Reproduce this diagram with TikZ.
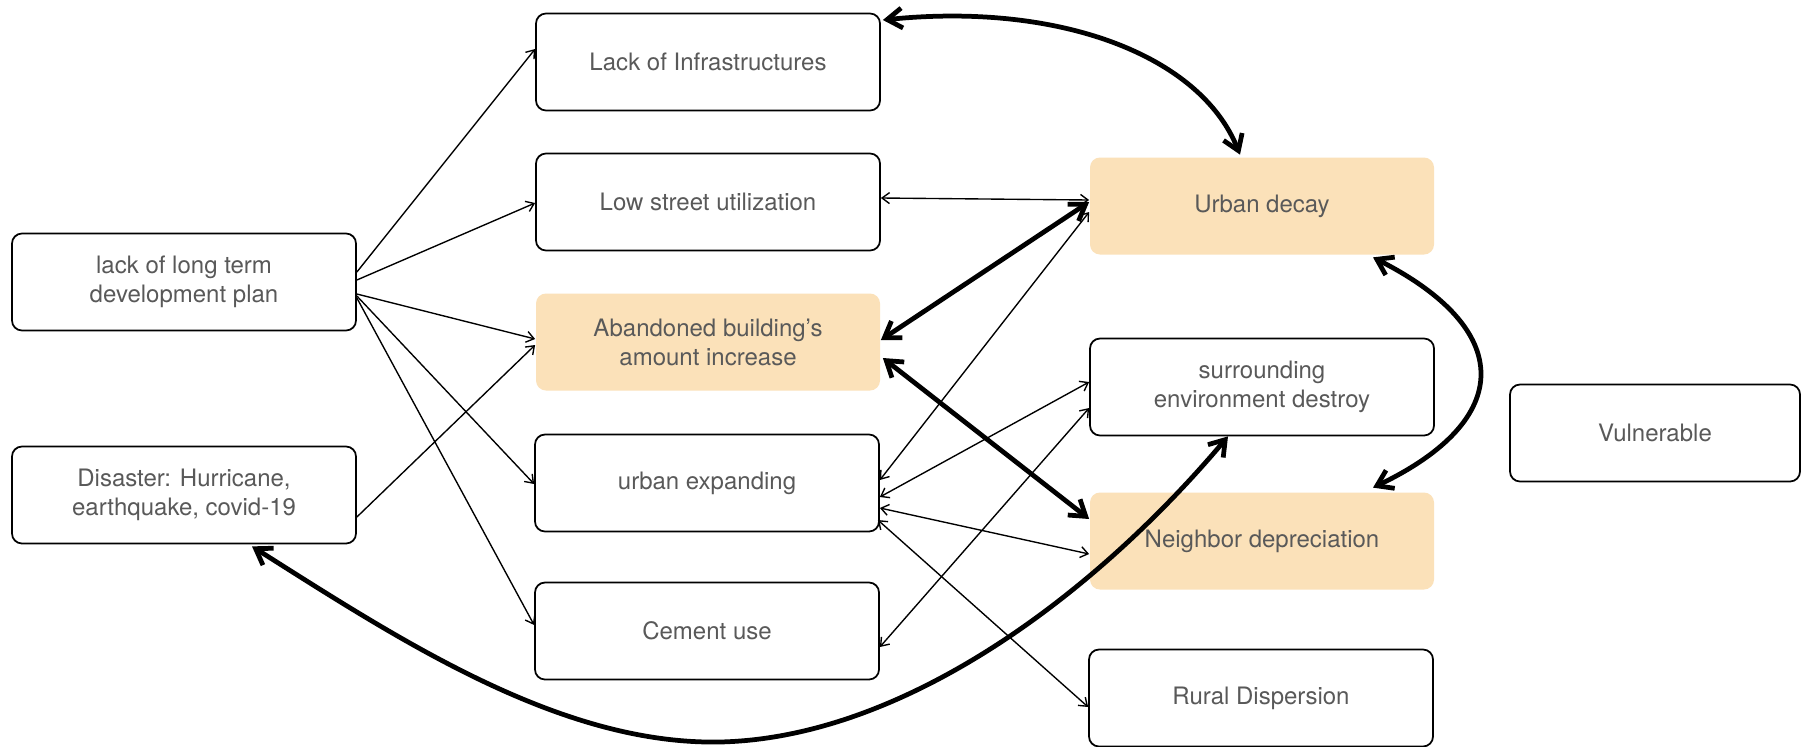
\documentclass[tikz,border=0pt]{standalone}
\usepackage{fontspec}
\setmainfont{TeX Gyre Heros}
\usetikzlibrary{arrows.meta,calc}
\definecolor{peach}{HTML}{FBE1B9}
\definecolor{txt}{HTML}{595959}
\begin{document}
\begin{tikzpicture}[x=0.4pt,y=-0.4pt,
  box/.style={draw=black, line width=0.7pt, rounded corners=4pt, minimum width=137.6pt, minimum height=38.8pt, inner sep=0pt, align=center, text=txt, font=\fontsize{9.6}{11.6}\selectfont},
  hot/.style={box, draw=none, fill=peach},
  thinarrow/.style={line width=0.55pt, {Straight Barb[length=3pt,width=4.4pt]}-{Straight Barb[length=3pt,width=4.4pt]}},
  onearrow/.style={line width=0.55pt, -{Straight Barb[length=3pt,width=4.4pt]}},
  thickarrow/.style={line width=1.9pt, {Straight Barb[length=6pt,width=8pt]}-{Straight Barb[length=6pt,width=8pt]}}]
\useasboundingbox (0,0) rectangle (1801,747);
\fill[white] (0,0) rectangle (1801,747);

\node[box] (lack) at (184,282) {lack of long term\\development plan};
\node[box] (dis) at (184,495) {Disaster: Hurricane,\\earthquake, covid-19};
\node[box] (infra) at (708,62) {Lack of Infrastructures};
\node[box] (low) at (708,202) {Low street utilization};
\node[hot] (aband) at (708,342) {Abandoned building's\\amount increase};
\node[box] (urbexp) at (707,483) {urban expanding};
\node[box] (cement) at (707,631) {Cement use};
\node[hot] (decay) at (1262,206) {Urban decay};
\node[box] (surr) at (1262,387) {surrounding\\environment destroy};
\node[hot] (neigh) at (1262,541) {Neighbor depreciation};
\node[box] (rural) at (1261,698) {Rural Dispersion};
\node[box, minimum width=116pt] (vuln) at (1655,433) {Vulnerable};

% thin one-way arrows
\draw[onearrow] ($(lack.east)+(0,-10)$) -- ($(infra.west)+(0,-13)$);
\draw[onearrow] ($(lack.east)+(0,-2)$) -- ($(low.west)+(0,1)$);
\draw[onearrow] ($(lack.east)+(0,12)$) -- ($(aband.west)+(0,-3)$);
\draw[onearrow] ($(lack.east)+(0,14)$) -- ($(urbexp.west)+(0,1)$);
\draw[onearrow] ($(lack.east)+(0,16)$) -- ($(cement.west)+(0,-6)$);
\draw[onearrow] ($(dis.east)+(0,22)$) -- ($(aband.west)+(0,3)$);

% thin two-way arrows
\draw[thinarrow] ($(low.east)+(0,-4)$) -- ($(decay.west)+(0,-6)$);
\draw[thinarrow] ($(urbexp.east)+(0,-3)$) -- ($(decay.west)+(0,6)$);
\draw[thinarrow] ($(urbexp.east)+(0,14)$) -- ($(surr.west)+(0,-5)$);
\draw[thinarrow] ($(cement.east)+(0,16)$) -- ($(surr.west)+(0,21)$);
\draw[thinarrow] ($(urbexp.east)+(0,25)$) -- ($(neigh.west)+(0,13)$);
\draw[thinarrow] ($(urbexp.east)+(-2,37)$) -- ($(rural.west)+(0,9)$);

% thick arrows
\draw[thickarrow] ($(aband.east)+(0,-2)$) -- ($(decay.west)+(0,-4)$);
\draw[thickarrow] ($(aband.east)+(2,16)$) -- ($(neigh.west)+(0,-22)$);
\draw[thickarrow] ($(infra.east)+(2,-42)$) .. controls +(175,-18) and +(-40,-100) .. ($(decay.north)+(-22,-2)$);
\draw[thickarrow] ($(decay.south)+(111,2)$) .. controls +(142,72) and +(142,-68) .. ($(neigh.north)+(111,-4)$);
\coordinate (dip) at (720,742);
\draw[thickarrow] ($(dis.south)+(68,2)$) .. controls (400,640) and (560,745) .. (dip) .. controls (900,738) and (1090,600) .. ($(surr.south)+(-34,0)$);
\end{tikzpicture}
\end{document}
